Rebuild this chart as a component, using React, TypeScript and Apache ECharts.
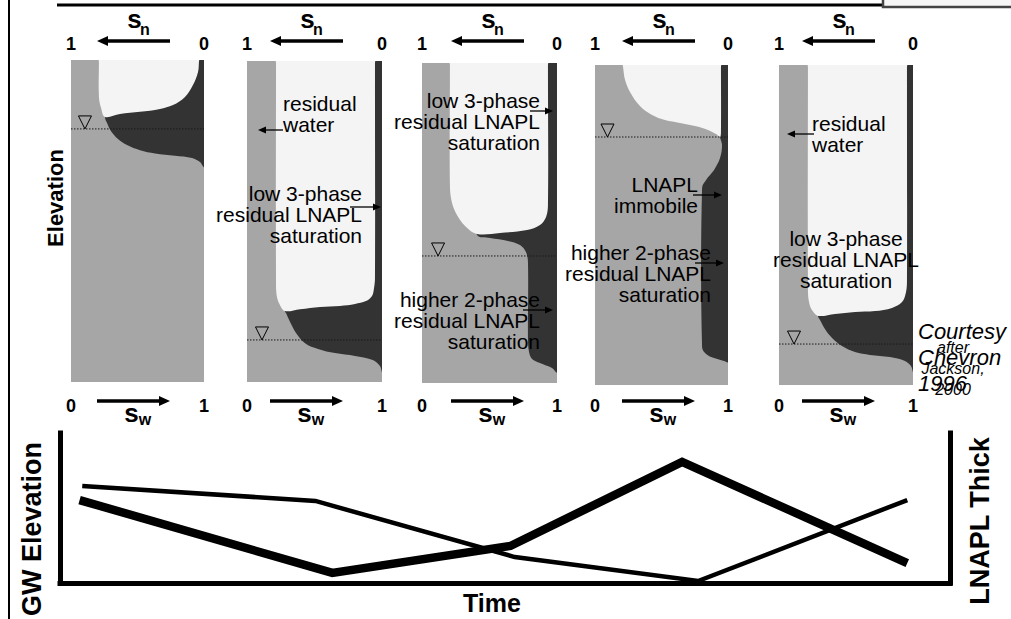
import { useEffect, useRef } from 'react';
import * as echarts from 'echarts';

// ---------- DATA ----------
// Saturation tick values (water saturation at the bottom, LNAPL saturation at the top, inverted)
const satTicks = [0, 1];

// Profile shapes: each point = [saturation measured from the left edge (0-1), elevation (% of profile height)]
// LNAPL (dark) regions
const lnaplP1 = [[1,100],[1,66.8],[0.97,68.3],[0.91,69.6],[0.782,70.3],[0.632,71.0],[0.519,72.0],[0.421,73.6],[0.353,75.5],[0.301,77.9],[0.271,80.4],[0.256,82.3],[0.293,87.6],[0.331,100]];
const lnaplP2 = [[1,100],[1,3.1],[0.985,5.0],[0.926,6.9],[0.8,8.1],[0.652,9.0],[0.526,10.3],[0.43,12.1],[0.363,15.3],[0.319,18.7],[0.289,21.5],[0.281,22.1],[0.319,41.1],[0.393,100]];
const lnaplP3 = [[1,100],[1,3.4],[0.963,4.7],[0.874,6.25],[0.815,7.5],[0.793,9.7],[0.785,13.4],[0.785,37.8],[0.77,40.9],[0.726,43.1],[0.637,44.4],[0.504,45.3],[0.407,46.3],[0.356,57.2],[0.43,100]];
const lnaplP4 = [[1,100],[1,7.2],[0.97,7.5],[0.895,8.4],[0.835,9.7],[0.805,11.9],[0.805,61.6],[0.835,64.1],[0.895,67.2],[0.94,70.9],[0.955,75],[0.94,77.5],[0.902,89.1],[0.902,100]];
const lnaplP5 = [[1,100],[1,4.1],[0.985,5.9],[0.94,7.5],[0.828,8.75],[0.679,9.4],[0.567,10.3],[0.47,12.2],[0.396,14.7],[0.343,17.5],[0.306,20.3],[0.291,21.6],[0.343,42.2],[0.418,100]];
// Air (white) regions
const airP1 = [[0.21,100],[0.21,99.4],[0.21,88.5],[0.226,85.1],[0.256,82.3],[0.368,83.2],[0.519,83.9],[0.669,84.8],[0.767,86.0],[0.857,88.5],[0.917,92.2],[0.955,96.3],[0.962,99.4],[0.962,100]];
const airP2 = [[0.215,100],[0.215,99.4],[0.215,30.2],[0.222,26.5],[0.244,24.0],[0.281,22.1],[0.393,22.7],[0.541,23.4],[0.689,23.7],[0.8,24.3],[0.881,25.2],[0.926,26.8],[0.941,29.3],[0.948,32.4],[0.948,99.4],[0.948,100]];
const airP3 = [[0.207,100],[0.207,99.4],[0.207,61.3],[0.222,56.3],[0.259,52.5],[0.319,49.1],[0.407,46.6],[0.578,46.9],[0.778,47.8],[0.874,49.4],[0.919,51.9],[0.933,55.6],[0.933,99.4],[0.933,100]];
const airP4 = [[0.211,100],[0.211,99.4],[0.226,95.3],[0.263,91.6],[0.338,87.2],[0.429,84.4],[0.526,82.8],[0.639,81.9],[0.752,80.9],[0.85,79.7],[0.91,78.4],[0.94,77.5],[0.947,79.1],[0.947,99.4],[0.947,100]];
const airP5 = [[0.216,100],[0.216,99.4],[0.216,29.7],[0.224,25.9],[0.246,23.4],[0.291,21.6],[0.418,22.2],[0.567,22.8],[0.716,23.1],[0.843,24.1],[0.918,25.9],[0.948,29.1],[0.955,32.8],[0.955,99.4],[0.955,100]];
// Water table elevation (% of profile) and the saturation where its marker sits
const waterTable = [78.6, 13.1, 39.7, 77.5, 12.8];
const markerSat = [0.105, 0.111, 0.119, 0.094, 0.112];

// Bottom time series
const gwTime = [2.2, 30.6, 50.6, 69.9, 95.2];
const gwElevation = [55.3, 6.7, 24.7, 80.7, 13.3];
const lnaplTime = [2.5, 28.7, 51.1, 71.7, 95.2];
const lnaplThickness = [64.7, 54.7, 17.3, 1.3, 55.3];

const lnaplShapes = [lnaplP1, lnaplP2, lnaplP3, lnaplP4, lnaplP5];
const airShapes = [airP1, airP2, airP3, airP4, airP5];

// ---------- LAYOUT / STYLE ----------
const panels = [
  { left: 71, top: 60, width: 133, height: 322 },
  { left: 247, top: 61, width: 135, height: 321 },
  { left: 422, top: 63, width: 135, height: 320 },
  { left: 595, top: 65, width: 133, height: 320 },
  { left: 779, top: 65, width: 134, height: 320 },
];
const arrowCenters = [134, 307, 488, 659, 839];
const DARK = '#333333';
const GRAY = '#a6a6a6';
const AIR = '#f4f4f4';
const FONT = '"Liberation Sans", Arial, Helvetica, sans-serif';

const annotations = [
  { text: 'residual\nwater', x: 283, y: 92.5, align: 'left' },
  { text: 'low 3-phase\nresidual LNAPL\nsaturation', x: 362, y: 182.5, align: 'right' },
  { text: 'low 3-phase\nresidual LNAPL\nsaturation', x: 540, y: 89.5, align: 'right' },
  { text: 'higher 2-phase\nresidual LNAPL\nsaturation', x: 540, y: 288.5, align: 'right' },
  { text: 'LNAPL\nimmobile', x: 698, y: 173.5, align: 'right' },
  { text: 'higher 2-phase\nresidual LNAPL\nsaturation', x: 711, y: 241.5, align: 'right' },
  { text: 'residual\nwater', x: 812, y: 112.5, align: 'left' },
  { text: 'low 3-phase\nresidual LNAPL\nsaturation', x: 846, y: 227.5, align: 'center' },
];
const annotationArrows = [
  [283, 130, 258, 130],
  [350, 207, 381, 207],
  [530, 111, 553, 111],
  [523, 310, 553, 310],
  [693, 195, 722, 195],
  [695, 263, 724, 263],
  [814, 134, 787, 134],
];

function arrow(x1: number, y1: number, x2: number, y2: number, lw: number, hl: number, hw: number) {
  const dx = x2 - x1, dy = y2 - y1;
  const len = Math.hypot(dx, dy);
  const ux = dx / len, uy = dy / len;
  const bx = x2 - ux * hl, by = y2 - uy * hl;
  return [
    { type: 'line', z: 100, shape: { x1, y1, x2: bx + ux, y2: by + uy }, style: { stroke: '#000', lineWidth: lw } },
    {
      type: 'polygon', z: 100,
      shape: { points: [[x2, y2], [bx - uy * hw, by + ux * hw], [bx + uy * hw, by - ux * hw]] },
      style: { fill: '#000' },
    },
  ];
}

function txt(x: number, y: number, text: string, font: string, opts: any = {}) {
  return {
    type: 'text', x, y, z: 100, rotation: opts.rotation || 0,
    style: {
      text, fill: '#000', font,
      align: opts.align || 'center', textAlign: opts.align || 'center',
      verticalAlign: opts.va || 'middle', textVerticalAlign: opts.va || 'middle',
      lineHeight: opts.lh,
    },
  };
}

function makeRender(i: number) {
  return (params: any, api: any) => {
    const tl = api.coord([0, 100]);
    const br = api.coord([1, 0]);
    const cons = [[tl[0], tl[1]], [br[0], br[1]]];
    const toPx = (pts: number[][]) => pts.map((p) => api.coord(p));
    const k = params.dataIndex;
    if (k === 0) {
      return { type: 'polygon', z2: 1, shape: { points: toPx(lnaplShapes[i]), smooth: 0.35, smoothConstraint: cons }, style: { fill: DARK } };
    }
    if (k === 1) {
      return { type: 'polygon', z2: 2, shape: { points: toPx(airShapes[i]), smooth: 0.35, smoothConstraint: cons }, style: { fill: AIR } };
    }
    const wt = api.coord([0, waterTable[i]]);
    if (k === 2) {
      return { type: 'line', z2: 3, shape: { x1: tl[0], y1: wt[1], x2: br[0], y2: wt[1] }, style: { stroke: '#1a1a1a', lineWidth: 1, lineDash: [1.5, 1.5] } };
    }
    const m = api.coord([markerSat[i], waterTable[i]]);
    return {
      type: 'polygon', z2: 4,
      shape: { points: [[m[0], m[1]], [m[0] - 6.5, m[1] - 13], [m[0] + 6.5, m[1] - 13]] },
      style: { fill: 'none', stroke: '#000', lineWidth: 1 },
    };
  };
}

export default function App() {
  const ref = useRef<HTMLDivElement>(null);
  useEffect(() => {
    if (!ref.current) return;
    const chart = echarts.init(ref.current, null, { renderer: 'svg' });

    const grids: any[] = panels.map((p) => ({ ...p, show: true, backgroundColor: GRAY, borderWidth: 0 }));
    grids.push({ left: 60, top: 433, width: 890, height: 150 });

    const labelStyle = { fontSize: 18, fontWeight: 'bold', color: '#000', fontFamily: FONT, showMinLabel: true, showMaxLabel: true };
    const xAxes: any[] = [];
    const yAxes: any[] = [];
    panels.forEach((p, i) => {
      xAxes.push({
        type: 'value', gridIndex: i, position: 'bottom', min: satTicks[0], max: satTicks[1], interval: 1,
        axisLine: { show: false }, axisTick: { show: false }, splitLine: { show: false },
        axisLabel: { ...labelStyle, margin: 397 - (p.top + p.height) },
      });
      xAxes.push({
        type: 'value', gridIndex: i, position: 'top', inverse: true, min: satTicks[0], max: satTicks[1], interval: 1,
        axisLine: { show: false }, axisTick: { show: false }, splitLine: { show: false },
        axisLabel: { ...labelStyle, margin: p.top - 52.5 },
      });
      yAxes.push({ type: 'value', gridIndex: i, min: 0, max: 100, show: false });
    });
    const thickAxis = { show: true, onZero: false, lineStyle: { color: '#000', width: 5, cap: 'square' } };
    xAxes.push({
      type: 'value', gridIndex: 5, min: 0, max: 100, axisLine: thickAxis,
      axisTick: { show: false }, axisLabel: { show: false }, splitLine: { show: false },
    });
    yAxes.push({
      type: 'value', gridIndex: 5, min: 0, max: 100, position: 'left', axisLine: thickAxis,
      axisTick: { show: false }, axisLabel: { show: false }, splitLine: { show: false },
    });
    yAxes.push({
      type: 'value', gridIndex: 5, min: 0, max: 100, position: 'right', axisLine: thickAxis,
      axisTick: { show: false }, axisLabel: { show: false }, splitLine: { show: false },
    });

    const series: any[] = panels.map((_, i) => ({
      type: 'custom', xAxisIndex: i * 2, yAxisIndex: i, silent: true, clip: false,
      data: [[0, 0], [0, 0], [0, 0], [0, 0]],
      renderItem: makeRender(i),
    }));
    series.push({
      type: 'line', name: 'GW Elevation', xAxisIndex: 10, yAxisIndex: 5, symbol: 'none', silent: true,
      data: gwTime.map((t, i) => [t, gwElevation[i]]),
      lineStyle: { color: '#000', width: 8.5, join: 'miter' }, z: 3,
    });
    series.push({
      type: 'line', name: 'LNAPL Thickness', xAxisIndex: 10, yAxisIndex: 5, symbol: 'none', silent: true,
      data: lnaplTime.map((t, i) => [t, lnaplThickness[i]]),
      lineStyle: { color: '#000', width: 4.5, join: 'miter' }, z: 3,
    });

    const elements: any[] = [];
    // frame
    elements.push({ type: 'line', z: 100, shape: { x1: 9, y1: 0, x2: 9, y2: 619 }, style: { stroke: '#000', lineWidth: 2 } });
    elements.push({ type: 'line', z: 100, shape: { x1: 57, y1: 5, x2: 883, y2: 5 }, style: { stroke: '#000', lineWidth: 3 } });
    elements.push({ type: 'rect', z: 100, shape: { x: 883, y: -4, width: 140, height: 11 }, style: { fill: '#f6f6f6', stroke: '#444', lineWidth: 2.5 } });
    // s_n / s_w labels and arrows
    arrowCenters.forEach((c) => {
      elements.push(...arrow(c + 36, 41, c - 37, 41, 3.5, 11, 5));
      elements.push(...arrow(c - 37, 401, c + 36, 401, 3.5, 11, 5));
      elements.push(txt(c + 0.5, 19, 's', `bold 26px ${FONT}`));
      elements.push(txt(c + 11, 29.5, 'n', `bold 16px ${FONT}`));
      elements.push(txt(c - 2.5, 413, 's', `bold 26px ${FONT}`));
      elements.push(txt(c + 11, 419.5, 'w', `bold 16px ${FONT}`));
    });
    // annotations
    annotations.forEach((a) => {
      elements.push(txt(a.x, a.y, a.text, `21px ${FONT}`, { align: a.align, va: 'top', lh: 21 }));
    });
    annotationArrows.forEach((a) => elements.push(...arrow(a[0], a[1], a[2], a[3], 1.3, 8, 3.5)));
    // credits
    elements.push(txt(918, 318, 'Courtesy\nChevron\n1996', `italic 22px ${FONT}`, { align: 'left', va: 'top', lh: 26 }));
    elements.push(txt(953, 337, 'after\nJackson,\n2000', `italic 16px ${FONT}`, { align: 'center', va: 'top', lh: 21 }));
    // axis titles
    elements.push(txt(55, 198, 'Elevation', `bold 22px ${FONT}`, { rotation: Math.PI / 2 }));
    elements.push(txt(32, 529, 'GW Elevation', `bold 27px ${FONT}`, { rotation: Math.PI / 2 }));
    elements.push(txt(980, 521, 'LNAPL Thick', `bold 27px ${FONT}`, { rotation: Math.PI / 2 }));
    elements.push(txt(492, 603, 'Time', `bold 25px ${FONT}`));

    chart.setOption({
      animation: false,
      backgroundColor: '#ffffff',
      grid: grids,
      xAxis: xAxes,
      yAxis: yAxes,
      series,
      graphic: { elements },
    });
    return () => chart.dispose();
  }, []);
  return <div ref={ref} style={{ position: 'fixed', left: 0, top: 0, width: 1011, height: 619 }} />;
}
